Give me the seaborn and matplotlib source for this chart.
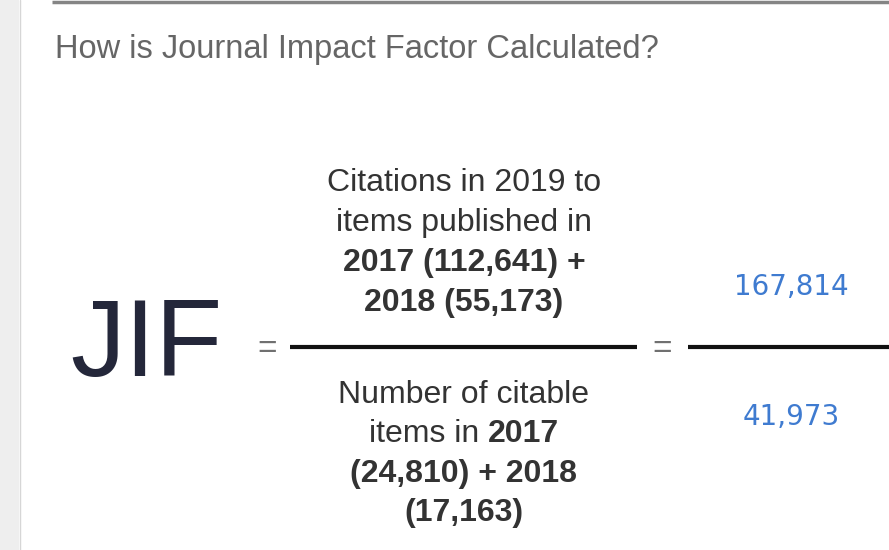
import numpy as np
import pandas as pd
import matplotlib
matplotlib.use("Agg")
import matplotlib.pyplot as plt
import seaborn as sns

# datos de la figura
anio_citas = 2019
anios = [2017, 2018]
citas = [112641, 55173]
items_citables = [24810, 17163]

total_citas = sum(citas)
total_items = sum(items_citables)

sns.set_theme(style="white")
plt.rcParams['font.family'] = ['Liberation Sans', 'DejaVu Sans']

fig = plt.figure(figsize=(8.89, 5.5), dpi=100)
ax = fig.add_axes([0, 0, 1, 1])
ax.set_xlim(0, 889)
ax.set_ylim(550, 0)
ax.axis('off')
renderer = fig.canvas.get_renderer()

# marco de la pagina
ax.axvspan(0, 19, color='#eeeeee', lw=0)
ax.plot([20, 20], [0, 550], color='#d6d6d6', lw=1)
ax.plot([52, 889], [2, 2], color='#858585', lw=2.5, solid_capstyle='butt')

ax.text(55, 58, 'How is Journal Impact Factor Calculated?', fontsize=23.5,
        color='#666666', va='baseline', ha='left')


def ancho(s, size, weight):
    t = ax.text(0, 0, s, fontsize=size, fontweight=weight)
    w = t.get_window_extent(renderer).width
    t.remove()
    return w


def linea_mixta(partes, x, y, size=23, color='#333333'):
    # partes: lista de (texto, peso); se separan con un espacio
    espacio = ancho('a a', size, 'normal') - ancho('aa', size, 'normal')
    textos = [ax.text(0, y, s, fontsize=size, fontweight=w, color=color,
                      va='center', ha='left') for s, w in partes]
    anchos = [t.get_window_extent(renderer).width for t in textos]
    x0 = x - (sum(anchos) + espacio * (len(anchos) - 1)) / 2
    for t, a in zip(textos, anchos):
        t.set_x(x0)
        x0 += a + espacio


cx = 464
numerador = [
    [(f'Citations in {anio_citas} to', 'normal')],
    [('items published in', 'normal')],
    [(f'{anios[0]} ({citas[0]:,}) +', 'bold')],
    [(f'{anios[1]} ({citas[1]:,})', 'bold')],
]
denominador = [
    [('Number of citable', 'normal')],
    [('items in', 'normal'), (f'{anios[0]}', 'bold')],
    [(f'({items_citables[0]:,}) + {anios[1]}', 'bold')],
    [(f'({items_citables[1]:,})', 'bold')],
]
for i, partes in enumerate(numerador):
    linea_mixta(partes, cx, 183 + 40 * i)
for i, partes in enumerate(denominador):
    linea_mixta(partes, cx, 395 + 39.5 * i)

# JIF y signos igual
ax.text(70, 348, 'JIF', fontsize=79, color='#24273a', va='center', ha='left')
ax.text(267, 349, '=', fontsize=24, color='#707070', va='center', ha='center')
ax.text(662, 349, '=', fontsize=24, color='#707070', va='center', ha='center')

ax.plot([290, 637], [347, 347], color='#111111', lw=3, solid_capstyle='butt')
ax.plot([688, 889], [347, 347], color='#111111', lw=3, solid_capstyle='butt')

azul = '#3f7bd0'
ax.text(791, 287, f'{total_citas:,}', fontsize=20, color=azul,
        family='DejaVu Sans', va='center', ha='center')
ax.text(791, 417, f'{total_items:,}', fontsize=20, color=azul,
        family='DejaVu Sans', va='center', ha='center')

fig.savefig('out.png', dpi=100)
